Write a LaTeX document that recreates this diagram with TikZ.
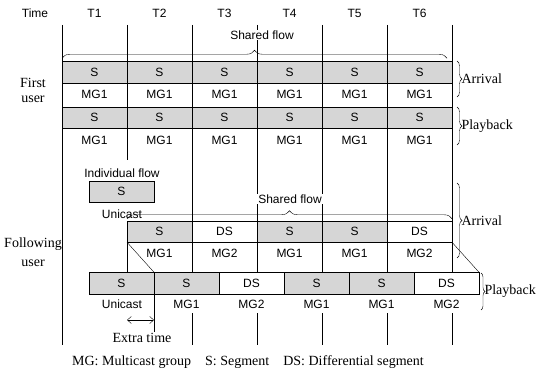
\documentclass[tikz,border=0pt]{standalone}
\usepackage{fontspec}
\setmainfont{Liberation Serif}
\setsansfont{Liberation Sans}
\usetikzlibrary{positioning,decorations.pathreplacing,arrows.meta}
\colorlet{segGray}{black!16}

\begin{document}
\begin{tikzpicture}[x=1pt, y=-1pt, >={Straight Barb[length=4pt,width=7pt]},
        every node/.style={font=\sffamily\fontsize{12}{14}\selectfont},
        cell/.style={draw, minimum width=65pt, minimum height=21.5pt, inner sep=0pt, outer sep=0pt},
        seg/.style={cell, fill=segGray},
        dseg/.style={cell, fill=white},
        mglab/.style={fill=white, inner xsep=1pt, inner ysep=0pt, minimum height=18pt},
        serif/.style={font=\rmfamily\fontsize{14}{15}\selectfont},
        brc/.style={decorate, decoration={brace, amplitude=#1}}]
    \useasboundingbox (0,0) rectangle (536,377);

    % time axis
    \node (time) at (35,13) {Time};
    \foreach \i in {1,...,6}
        \node (t\i) at ({29.5+65*\i},13) {T\i};
    \foreach \i in {0,2,3,4,5,6}
        \draw ({62+65*\i},25) -- ({62+65*\i},345);
    \draw (127,25) -- (127,160);

    % first user
    \node[serif, align=center] (first) at (33,90) {First\\user};
    \node[fill=white, inner sep=1pt] (sh1) at (262,35) {Shared flow};
    \foreach \i in {1,...,6} {
        \node[seg] (fa\i) at ({29.5+65*\i},72) {S};
        \node (fam\i) at ({29.5+65*\i},94) {MG1};
        \node[seg] (fp\i) at ({29.5+65*\i},117.5) {S};
        \node (fpm\i) at ({29.5+65*\i},140) {MG1};
    }
    \draw[brc=8pt] ([yshift=3pt]fa1.north west) -- ([xshift=-5pt,yshift=3pt]fa6.north east);
    \draw[brc=5pt] (457,61) -- node[serif, right=1pt] (farr) {Arrival} (457,97);
    \draw[brc=5pt] (457,107) -- node[serif, right=1pt] (fplay) {Playback} (457,145);

    % following user
    \node[serif, align=center] (follow) at (33,252) {Following\\[4pt]user};
    \node[fill=white, inner sep=1pt] (indiv) at (122,173) {Individual flow};
    \node[seg] (ind) at (121.5,191.5) {S};
    \node (uni1) at (122,214) {Unicast};

    \node[seg] (a1) at (159.5,231.5) {S};
    \node[dseg] (a2) at (224.5,231.5) {DS};
    \node[seg] (a3) at (289.5,231.5) {S};
    \node[seg] (a4) at (354.5,231.5) {S};
    \node[dseg] (a5) at (419.5,231.5) {DS};
    \node (am1) at (159.5,253) {MG1};
    \node (am2) at (224.5,253) {MG2};
    \node (am3) at (289.5,253) {MG1};
    \node (am4) at (354.5,253) {MG1};
    \node (am5) at (419.5,253) {MG2};
    \node[fill=white, inner sep=1pt] (sh2) at (290,199) {Shared flow};
    \draw[brc=8pt] ([yshift=2pt]a1.north west) -- ([yshift=2pt]a5.north east);

    \node[seg] (p1) at (121.5,283) {S};
    \node[seg] (p2) at (186.5,283) {S};
    \node[dseg] (p3) at (251.5,283) {DS};
    \node[seg] (p4) at (316.5,283) {S};
    \node[seg] (p5) at (381.5,283) {S};
    \node[dseg] (p6) at (446.5,283) {DS};
    \node[mglab] (uni2) at (122,304) {Unicast};
    \node[mglab] (pm2) at (186.5,304) {MG1};
    \node[mglab] (pm3) at (251.5,304) {MG2};
    \node[mglab] (pm4) at (316.5,304) {MG1};
    \node[mglab] (pm5) at (381.5,304) {MG1};
    \node[mglab] (pm6) at (446.5,304) {MG2};

    \draw (a1.south west) -- (a1.south west |- p1.north);
    \draw (a1.south west) -- (p2.north west);
    \draw (a5.south east) -- (p6.north east);
    \draw[brc=5pt] (457,183) -- node[serif, right=1pt] (sarr) {Arrival} (457,258);
    \draw[brc=4pt] (481,273) -- node[serif, right=0pt] (splay) {Playback} (481,310);

    % extra time
    \coordinate (xend) at (154,332);
    \coordinate (xl) at (127,320);
    \draw (p1.south east) -- (xend);
    \draw[<->] (xl) -- (xl -| p1.east);
    \node[serif] (extra) at (142,338) {Extra time};

    \node[serif] (legend) at (248,362) {MG: Multicast group\quad S: Segment\quad DS: Differential segment};
\end{tikzpicture}
\end{document}
